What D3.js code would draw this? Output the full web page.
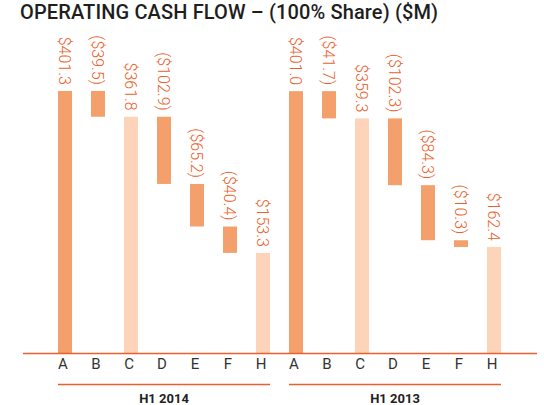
<!DOCTYPE html>
<html>
<head>
<meta charset="utf-8">
<script src="https://cdn.jsdelivr.net/npm/d3@7"></script>
<style>
  body { margin: 0; background: #fff; }
  svg { display: block; font-family: Roboto, sans-serif; }
</style>
</head>
<body>
<svg id="chart"></svg>
<script>
const width = 544;
const height = 405;

// data
const periods = ['H1 2014', 'H1 2013'];
const steps = ['A', 'B', 'C', 'D', 'E', 'F', 'H'];
const kinds = ['total', 'change', 'total', 'change', 'change', 'change', 'total'];
const values2014 = [401.3, -39.5, 361.8, -102.9, -65.2, -40.4, 153.3];
const values2013 = [401.0, -41.7, 359.3, -102.3, -84.3, -10.3, 162.4];

const darkColor = '#f4a06c';
const lightColor = '#fdd4b9';
const accent = '#ec5f2d';

const svg = d3.select('#chart')
  .attr('width', width)
  .attr('height', height);

// build waterfall rows
let rows = [];
[values2014, values2013].forEach((vals, p) => {
  let level = 0;
  vals.forEach((v, i) => {
    let start, end;
    if (kinds[i] == 'total') {
      start = 0; end = v; level = v;
    } else {
      start = level; end = level + v; level = end;
    }
    rows.push({
      key: periods[p] + '-' + steps[i],
      period: periods[p],
      step: steps[i],
      kind: kinds[i],
      value: v,
      lo: Math.min(start, end),
      hi: Math.max(start, end),
      colorIdx: i
    });
  });
});

const x = d3.scaleBand()
  .domain(rows.map(d => d.key))
  .range([48.5, 510.5])
  .paddingInner(19 / 33)
  .paddingOuter(9.5 / 33);

const y = d3.scaleLinear().domain([0, 400]).range([353, 91.8]);

// bars
svg.selectAll('.bar')
  .data(rows)
  .enter()
  .append('rect')
  .attr('class', 'bar')
  .attr('x', d => x(d.key))
  .attr('y', d => y(d.hi))
  .attr('width', x.bandwidth())
  .attr('height', d => y(d.lo) - y(d.hi))
  .style('fill', d => (d.colorIdx == 2 || d.colorIdx == 6) ? lightColor : darkColor);

// value labels, rotated
const fmt = v => v < 0 ? '($' + Math.abs(v).toFixed(1) + ')' : '$' + v.toFixed(1);
svg.selectAll('.val')
  .data(rows)
  .enter()
  .append('text')
  .attr('class', 'val')
  .attr('transform', d => `translate(${x(d.key) + x.bandwidth() / 2}, ${y(d.hi) - 6}) rotate(90)`)
  .attr('text-anchor', 'end')
  .attr('dy', '0.35em')
  .style('font-size', '16px')
  .style('font-weight', 300)
  .style('fill', accent)
  .text(d => fmt(d.value));

// baseline
svg.append('line')
  .attr('x1', 23).attr('x2', 537)
  .attr('y1', y(0) + 0.5).attr('y2', y(0) + 0.5)
  .style('stroke', accent)
  .style('stroke-width', 1.3);

// category axis
const xAxis = svg.append('g')
  .attr('transform', `translate(-2, ${y(0) + 2})`)
  .call(d3.axisBottom(x).tickSize(0).tickFormat(k => k.split('-')[1]));
xAxis.select('.domain').remove();
xAxis.selectAll('text')
  .style('font-family', 'Roboto, sans-serif')
  .style('font-size', '15px')
  .style('fill', '#333');

// period brackets
periods.forEach(p => {
  const first = x(p + '-' + steps[0]);
  const last = x(p + '-' + steps[steps.length - 1]) + x.bandwidth();
  svg.append('line')
    .attr('x1', first).attr('x2', last)
    .attr('y1', 384.5).attr('y2', 384.5)
    .style('stroke', accent)
    .style('stroke-width', 1.3);
  svg.append('text')
    .attr('x', (first + last) / 2)
    .attr('y', 403)
    .attr('text-anchor', 'middle')
    .style('font-size', '13px')
    .style('font-weight', 700)
    .style('fill', '#222')
    .text(p);
});

// title
svg.append('text')
  .attr('x', 20)
  .attr('y', 18.5)
  .style('font-size', '20px')
  .style('font-weight', 500)
  .style('letter-spacing', '0.13px')
  .style('fill', '#1e1e1e')
  .text('OPERATING CASH FLOW – (100% Share) ($M)');
</script>
</body>
</html>
